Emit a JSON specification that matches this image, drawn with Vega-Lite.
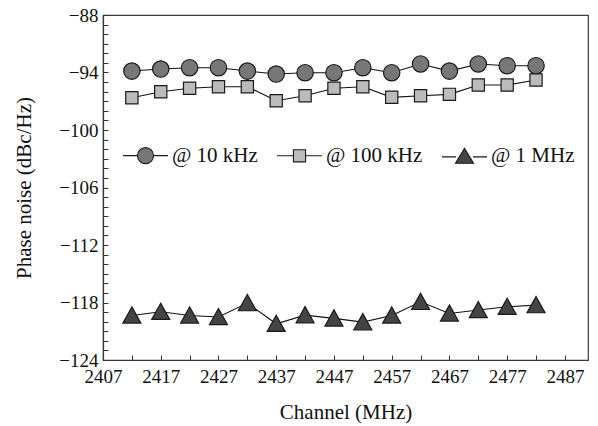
{
  "$schema": "https://vega.github.io/schema/vega-lite/v6.json",
  "width": 485,
  "height": 345,
  "autosize": {"type": "none"},
  "padding": {"left": 103, "top": 15, "right": 10, "bottom": 66},
  "background": "white",
  "config": {
    "view": {"stroke": "#3a3a3a", "strokeWidth": 1.2},
    "font": "Liberation Serif, Times New Roman, serif",
    "legend": {"labelFont": "Liberation Serif, Times New Roman, serif"},
    "axis": {
      "labelFont": "Liberation Serif, Times New Roman, serif",
      "titleFont": "Liberation Serif, Times New Roman, serif",
      "labelFontSize": 19,
      "titleFontSize": 21,
      "labelColor": "#111",
      "titleColor": "#111",
      "titleFontWeight": "normal",
      "grid": false,
      "domainColor": "#3a3a3a",
      "domainWidth": 1.2,
      "tickColor": "#333",
      "tickSize": -5,
      "labelOverlap": false,
      "labelBound": false,
      "labelFlush": false
    }
  },
  "datasets": {
    "pts": [
      {"ch": 2412, "pn": -93.85, "series": "@ 10 kHz"},
      {"ch": 2417, "pn": -93.64, "series": "@ 10 kHz"},
      {"ch": 2422, "pn": -93.50, "series": "@ 10 kHz"},
      {"ch": 2427, "pn": -93.50, "series": "@ 10 kHz"},
      {"ch": 2432, "pn": -93.85, "series": "@ 10 kHz"},
      {"ch": 2437, "pn": -94.16, "series": "@ 10 kHz"},
      {"ch": 2442, "pn": -94.02, "series": "@ 10 kHz"},
      {"ch": 2447, "pn": -94.02, "series": "@ 10 kHz"},
      {"ch": 2452, "pn": -93.50, "series": "@ 10 kHz"},
      {"ch": 2457, "pn": -94.02, "series": "@ 10 kHz"},
      {"ch": 2462, "pn": -93.11, "series": "@ 10 kHz"},
      {"ch": 2467, "pn": -93.85, "series": "@ 10 kHz"},
      {"ch": 2472, "pn": -93.11, "series": "@ 10 kHz"},
      {"ch": 2477, "pn": -93.29, "series": "@ 10 kHz"},
      {"ch": 2482, "pn": -93.29, "series": "@ 10 kHz"},
      {"ch": 2412, "pn": -96.63, "series": "@ 100 kHz"},
      {"ch": 2417, "pn": -96.01, "series": "@ 100 kHz"},
      {"ch": 2422, "pn": -95.65, "series": "@ 100 kHz"},
      {"ch": 2427, "pn": -95.48, "series": "@ 100 kHz"},
      {"ch": 2432, "pn": -95.48, "series": "@ 100 kHz"},
      {"ch": 2437, "pn": -96.95, "series": "@ 100 kHz"},
      {"ch": 2442, "pn": -96.42, "series": "@ 100 kHz"},
      {"ch": 2447, "pn": -95.65, "series": "@ 100 kHz"},
      {"ch": 2452, "pn": -95.48, "series": "@ 100 kHz"},
      {"ch": 2457, "pn": -96.59, "series": "@ 100 kHz"},
      {"ch": 2462, "pn": -96.42, "series": "@ 100 kHz"},
      {"ch": 2467, "pn": -96.28, "series": "@ 100 kHz"},
      {"ch": 2472, "pn": -95.31, "series": "@ 100 kHz"},
      {"ch": 2477, "pn": -95.31, "series": "@ 100 kHz"},
      {"ch": 2482, "pn": -94.78, "series": "@ 100 kHz"},
      {"ch": 2412, "pn": -119.35, "series": "@ 1 MHz"},
      {"ch": 2417, "pn": -118.97, "series": "@ 1 MHz"},
      {"ch": 2422, "pn": -119.35, "series": "@ 1 MHz"},
      {"ch": 2427, "pn": -119.52, "series": "@ 1 MHz"},
      {"ch": 2432, "pn": -118.06, "series": "@ 1 MHz"},
      {"ch": 2437, "pn": -120.22, "series": "@ 1 MHz"},
      {"ch": 2442, "pn": -119.32, "series": "@ 1 MHz"},
      {"ch": 2447, "pn": -119.66, "series": "@ 1 MHz"},
      {"ch": 2452, "pn": -120.05, "series": "@ 1 MHz"},
      {"ch": 2457, "pn": -119.35, "series": "@ 1 MHz"},
      {"ch": 2462, "pn": -117.93, "series": "@ 1 MHz"},
      {"ch": 2467, "pn": -119.14, "series": "@ 1 MHz"},
      {"ch": 2472, "pn": -118.79, "series": "@ 1 MHz"},
      {"ch": 2477, "pn": -118.45, "series": "@ 1 MHz"},
      {"ch": 2482, "pn": -118.27, "series": "@ 1 MHz"}
    ]
  },
  "data": {"name": "pts"},
  "encoding": {
    "x": {
      "field": "ch",
      "type": "quantitative",
      "scale": {"domain": [2407, 2491], "nice": false, "zero": false},
      "axis": {
        "title": "Channel (MHz)",
        "values": [2407, 2412, 2417, 2422, 2427, 2432, 2437, 2442, 2447, 2452, 2457, 2462, 2467, 2472, 2477, 2482, 2487],
        "format": "d",
        "labelExpr": "(datum.value - 2407) % 10 == 0 ? datum.label : ''",
        "labelPadding": 12,
        "titlePadding": 15
      }
    },
    "y": {
      "field": "pn",
      "type": "quantitative",
      "scale": {"domain": [-124, -88], "nice": false, "zero": false},
      "axis": {
        "title": "Phase noise (dBc/Hz)",
        "values": [-124, -123, -122, -121, -120, -119, -118, -117, -116, -115, -114, -113, -112, -111, -110, -109, -108, -107, -106, -105, -104, -103, -102, -101, -100, -99, -98, -97, -96, -95, -94, -93, -92, -91, -90, -89, -88],
        "labelExpr": "(datum.value % 6 == -4) ? datum.label : ''",
        "labelPadding": 10,
        "titlePadding": 24
      }
    }
  },
  "layer": [
    {
      "mark": {"type": "line", "color": "#111", "strokeWidth": 1.1},
      "encoding": {"detail": {"field": "series"}}
    },
    {
      "transform": [{"filter": "datum.series === '@ 10 kHz'"}],
      "mark": {"type": "point", "shape": "circle", "size": 270, "filled": true, "stroke": "#1a1a1a", "strokeWidth": 1.2, "opacity": 1},
      "encoding": {
        "fill": {
          "field": "series",
          "type": "nominal",
          "scale": {
            "domain": ["@ 10 kHz", "@ 100 kHz", "@ 1 MHz"],
            "range": ["#777777", "#bbbbbb", "#444444"]
          },
          "legend": {
            "title": null,
            "orient": "none",
            "direction": "horizontal",
            "legendX": 19,
            "legendY": 117,
            "padding": 0,
            "labelFont": "Liberation Serif, Times New Roman, serif",
            "labelFontSize": 21,
            "labelColor": "#111",
            "labelOffset": 3,
            "columnPadding": 16,
            "symbolSize": 2025,
            "symbolStrokeColor": "#1a1a1a",
            "symbolStrokeWidth": 1.1,
            "symbolOpacity": 1,
            "encode": {
              "symbols": {
                "update": {
                  "shape": {"signal": "datum.value === '@ 10 kHz' ? 'M-1,0L-0.356,0M0.356,0L1,0M-0.356,0A0.356,0.356 0 1,1 0.356,0A0.356,0.356 0 1,1 -0.356,0Z' : datum.value === '@ 100 kHz' ? 'M-1,0L-0.27,0M0.27,0L1,0M-0.27,-0.27L0.27,-0.27L0.27,0.27L-0.27,0.27Z' : 'M-1,0.05L-0.38,0.05M0.38,0.05L1,0.05M0,-0.33L0.4,0.33L-0.4,0.33Z'"}
                }
              }
            }
          }
        }
      }
    },
    {
      "transform": [{"filter": "datum.series === '@ 100 kHz'"}],
      "mark": {"type": "point", "shape": "square", "size": 150, "filled": true, "stroke": "#1a1a1a", "strokeWidth": 1.2, "opacity": 1},
      "encoding": {"fill": {"field": "series", "type": "nominal"}}
    },
    {
      "transform": [{"filter": "datum.series === '@ 1 MHz'"}],
      "mark": {"type": "point", "shape": "M0,-0.95L1,0.85L-1,0.85Z", "size": 324, "filled": true, "stroke": "#1a1a1a", "strokeWidth": 1.2, "opacity": 1},
      "encoding": {"fill": {"field": "series", "type": "nominal"}}
    }
  ]
}
